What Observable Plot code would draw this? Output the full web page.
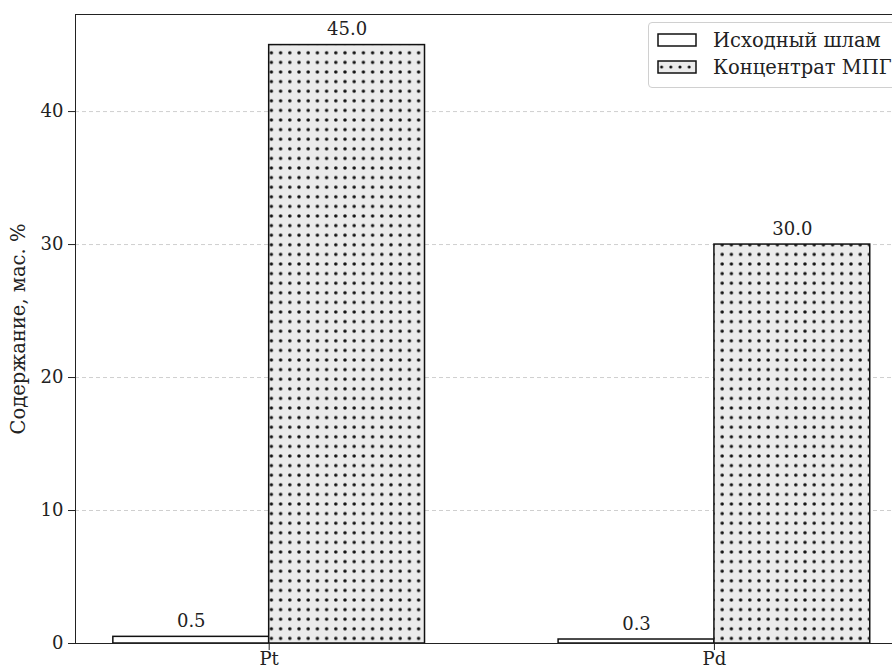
<!DOCTYPE html>
<html><head><meta charset="utf-8">
<script src="https://cdn.jsdelivr.net/npm/d3@7"></script>
<script src="https://cdn.jsdelivr.net/npm/@observablehq/plot@0.6"></script>
<style>
html,body{margin:0;padding:0;overflow:hidden;background:#fff;width:892px;height:670px}
#wrap{position:relative;width:892px;height:670px;overflow:hidden}
#wrap svg.chart{position:absolute;left:0;top:0;max-width:none !important}
.legend{position:absolute;left:648px;top:22px;width:270px;height:66px;border:1px solid #d0d0d0;border-radius:4px;background:rgba(255,255,255,0.85);font-family:"DejaVu Serif";font-size:19.5px;color:#222;box-sizing:border-box}
.legend .row{position:absolute;left:8px;height:22px;display:flex;align-items:center;white-space:nowrap}
.legend .row svg{margin-right:16px}
</style></head>
<body><div id="wrap"></div>
<script>
const elements = ["Pt", "Pd"];
const series = ["Исходный шлам", "Концентрат МПГ"];
const initial = [0.5, 0.3];
const concentrate = [45.0, 30.0];
const yTicks = [0, 10, 20, 30, 40];
const yLabel = "Содержание, мас. %";
const barWidth = 0.35;
const xLimits = [-0.435, 1.435];
const yLimits = [0, 47.3];

const rows = [];
elements.forEach((el, i) => {
  rows.push({el, i, series: series[0], value: initial[i], x1: i - barWidth, x2: i});
  rows.push({el, i, series: series[1], value: concentrate[i], x1: i, x2: i + barWidth});
});

const font = "DejaVu Serif";
const chart = Plot.plot({
  width: 910, height: 670,
  marginLeft: 75, marginRight: 2.4, marginTop: 14, marginBottom: 27,
  style: {fontFamily: font, fontSize: "18px", color: "#222", background: "transparent", overflow: "visible", maxWidth: "none"},
  x: {domain: xLimits, ticks: elements.map((_, i) => i), tickFormat: i => elements[i], tickSize: 7, tickPadding: 2, label: null},
  y: {domain: yLimits, ticks: yTicks, tickSize: 7, tickPadding: 5, label: null},
  marks: [
    Plot.gridY(yTicks.filter(t => t > 0), {stroke: "#cfcfcf", strokeOpacity: 1, strokeDasharray: "4,3"}),
    Plot.rect(rows.filter(d => d.series === series[0]), {x1: "x1", x2: "x2", y1: 0, y2: "value", fill: "white", stroke: "#111", strokeWidth: 1.5}),
    Plot.rect(rows.filter(d => d.series === series[1]), {x1: "x1", x2: "x2", y1: 0, y2: "value", fill: "url(#dots)", stroke: "#111", strokeWidth: 1.5}),
    Plot.text(rows, {x: d => (d.x1 + d.x2) / 2, y: "value", text: d => d.value.toFixed(1), dy: -10, lineAnchor: "bottom", fill: "#222", fontSize: 18}),
    Plot.ruleY([yLimits[0]], {stroke: "#222", strokeWidth: 1}),
    Plot.ruleY([yLimits[1]], {stroke: "#222", strokeWidth: 1}),
    Plot.ruleX([xLimits[0]], {stroke: "#222", strokeWidth: 1}),
    Plot.text([yLabel], {frameAnchor: "left", dx: -57, rotate: -90, textAnchor: "middle", lineAnchor: "middle", fill: "#222", fontSize: 19.5})
  ]
});
chart.classList.add("chart");
d3.select(chart).insert("defs", ":first-child").html(
  `<pattern id="dots" patternUnits="userSpaceOnUse" width="9.2" height="9.6">
     <rect width="9.2" height="9.6" fill="#ebebeb"></rect>
     <circle cx="4.6" cy="4.8" r="1.75" fill="#111"></circle>
   </pattern>`);
const wrap = document.getElementById("wrap");
wrap.appendChild(chart);

const legend = document.createElement("div");
legend.className = "legend";
legend.innerHTML = series.map((s, k) => `
  <div class="row" style="top:${6 + k * 27}px">
    <svg width="40" height="14"><defs><pattern id="ldots" patternUnits="userSpaceOnUse" width="9.2" height="14"><rect width="9.2" height="14" fill="#ebebeb"></rect><circle cx="4.6" cy="7" r="1.5" fill="#111"></circle></pattern></defs>
      <rect x="1" y="1" width="38" height="12" fill="${k === 0 ? "white" : "url(#ldots)"}" stroke="#111" stroke-width="1.5"></rect></svg>
    <span>${s}</span>
  </div>`).join("");
wrap.appendChild(legend);
</script>
</body></html>
